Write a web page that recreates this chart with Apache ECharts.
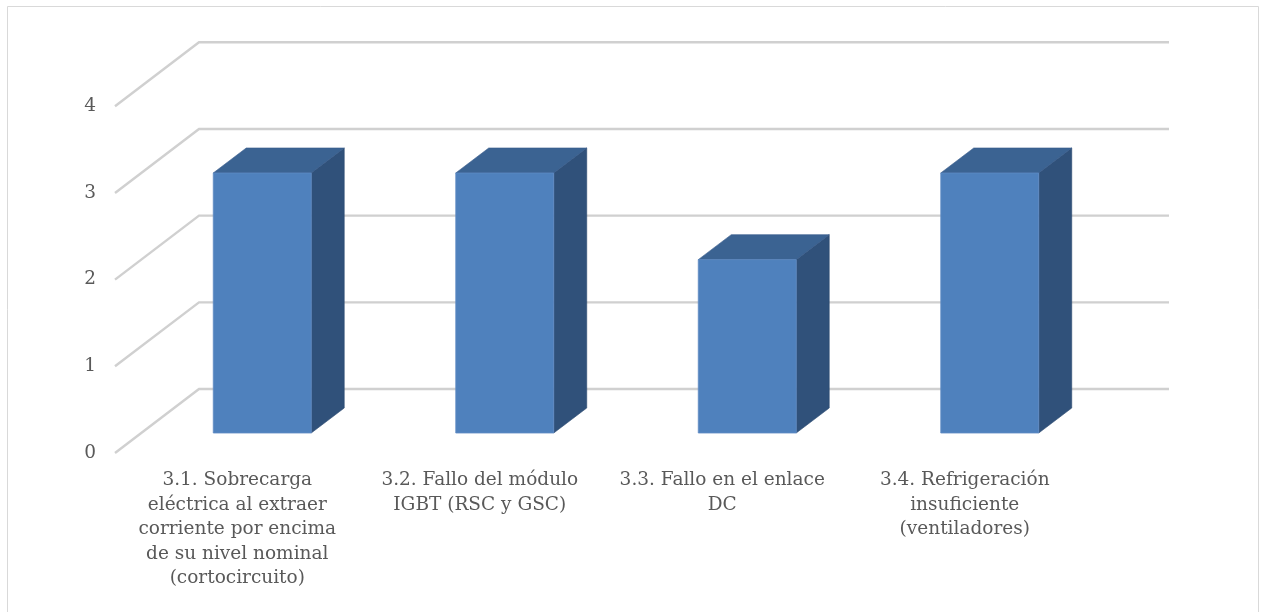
<!DOCTYPE html>
<html>
<head>
<meta charset="utf-8">
<script src="https://cdn.jsdelivr.net/npm/echarts@6/dist/echarts.min.js"></script>
<style>
  html, body { margin: 0; padding: 0; background: #ffffff; }
  #chart { width: 1263px; height: 612px; }
</style>
</head>
<body>
<div id="chart"></div>
<script>
// Failure modes of the power converter and how many times each was recorded
const categories = [
  '3.1. Sobrecarga\neléctrica al extraer\ncorriente por encima\nde su nivel nominal\n(cortocircuito)',
  '3.2. Fallo del módulo\nIGBT (RSC y GSC)',
  '3.3. Fallo en el enlace\nDC',
  '3.4. Refrigeración\ninsuficiente\n(ventiladores)'
];
const values = [3, 3, 2, 3];
const yTicks = [0, 1, 2, 3, 4];

// Oblique projection offsets (pixels) for the pseudo-3D look
const BAR_DEPTH = [33, -25];   // front face -> back face of each column
const WALL_DEPTH = [58, -44];  // bar front plane -> back wall
const FLOOR_FRONT = [-26, 20]; // bar front plane -> front edge of the floor
const BAR_RATIO = 0.404;

const FONT = '"DejaVu Serif", "Liberation Serif", serif';
const TEXT_COLOR = '#595959';

const chart = echarts.init(document.getElementById('chart'), null, { renderer: 'canvas' });

// One value gridline: slanted floor-side segment + horizontal line on the back wall,
// with its tick label placed at the front edge of the floor.
function gridlineItem(params, api) {
  const cs = params.coordSys;
  const v = api.value(1);
  const y = api.coord([0, v])[1];
  const xl = cs.x;
  const xr = cs.x + cs.width;
  return {
    type: 'group',
    children: [
      {
        type: 'polyline',
        shape: {
          points: [
            [xl + FLOOR_FRONT[0], y + FLOOR_FRONT[1]],
            [xl + WALL_DEPTH[0], y + WALL_DEPTH[1]],
            [xr + WALL_DEPTH[0], y + WALL_DEPTH[1]]
          ]
        },
        style: { stroke: '#d0d0d0', lineWidth: 2.4, fill: null },
        silent: true
      },
      {
        type: 'text',
        x: xl + FLOOR_FRONT[0] - 19,
        y: y + FLOOR_FRONT[1],
        style: {
          text: String(v),
          fill: TEXT_COLOR,
          font: '18.5px ' + FONT,
          align: 'right',
          verticalAlign: 'middle'
        },
        silent: true
      }
    ]
  };
}

function barItem(params, api) {
  const idx = api.value(0);
  const top = api.coord([idx, api.value(1)]);
  const base = api.coord([idx, 0]);
  const bw = api.size([1, 0])[0] * BAR_RATIO;
  const x0 = top[0] - bw / 2;
  const x1 = top[0] + bw / 2;
  const yt = top[1];
  const yb = base[1];
  const dx = BAR_DEPTH[0], dy = BAR_DEPTH[1];
  return {
    type: 'group',
    children: [
      {
        type: 'polygon',
        shape: { points: [[x1, yt], [x1 + dx, yt + dy], [x1 + dx, yb + dy], [x1, yb]] },
        style: { fill: '#30517a', stroke: '#2c4a70', lineWidth: 0.6 }
      },
      {
        type: 'polygon',
        shape: { points: [[x0, yt], [x1, yt], [x1 + dx, yt + dy], [x0 + dx, yt + dy]] },
        style: { fill: '#3b6392', stroke: '#35598a', lineWidth: 0.6 }
      },
      {
        type: 'rect',
        shape: { x: x0, y: yt, width: bw, height: yb - yt },
        style: { fill: '#4f81bd', stroke: '#5f8cc4', lineWidth: 0.8 }
      }
    ]
  };
}

const option = {
  backgroundColor: '#ffffff',
  animation: false,
  graphic: [
    {
      type: 'rect',
      shape: { x: 7.5, y: 6.5, width: 1251, height: 640 },
      style: { fill: null, stroke: '#d9d9d9', lineWidth: 1 },
      silent: true,
      z: -10
    }
  ],
  grid: { left: 141, width: 970, top: 86.3, height: 346.7 },
  xAxis: {
    type: 'category',
    data: categories,
    axisLine: { show: false },
    axisTick: { show: false },
    splitLine: { show: false },
    axisLabel: {
      interval: 0,
      margin: 35,
      color: TEXT_COLOR,
      fontFamily: FONT,
      fontSize: 18.5,
      lineHeight: 24.5,
      align: 'center',
      verticalAlign: 'top',
      padding: [0, 50, 0, 0]
    }
  },
  yAxis: {
    type: 'value',
    min: 0,
    max: 4,
    interval: 1,
    axisLine: { show: false },
    axisTick: { show: false },
    splitLine: { show: false },
    axisLabel: { show: false }
  },
  series: [
    {
      type: 'custom',
      name: 'grid',
      silent: true,
      z: 1,
      renderItem: gridlineItem,
      data: yTicks.map(v => [0, v])
    },
    {
      type: 'custom',
      name: 'Fallos',
      z: 2,
      renderItem: barItem,
      data: values.map((v, i) => [i, v])
    }
  ]
};

chart.setOption(option);
</script>
</body>
</html>
